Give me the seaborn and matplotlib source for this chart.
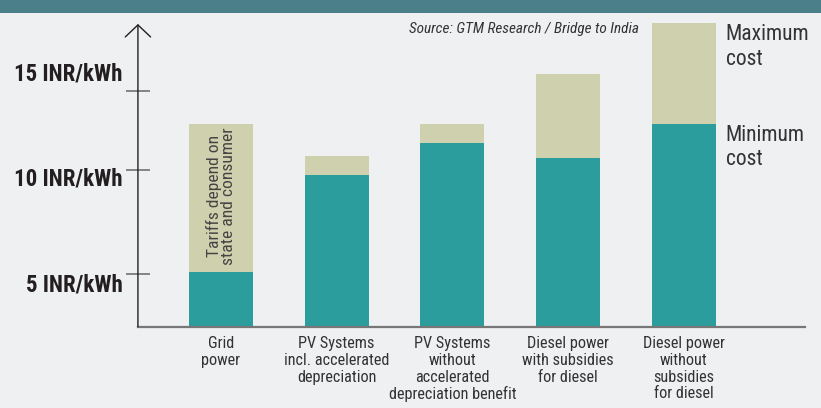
#!/usr/bin/env python3
"""
Cost of power in India: min / max cost per kWh by source.
Outputs: out.png
"""
import pandas as pd
import matplotlib.pyplot as plt
import seaborn as sns
from matplotlib.patches import Rectangle
from matplotlib import font_manager

categories = [
    "Grid\npower",
    "PV Systems\nincl. accelerated\ndepreciation",
    "PV Systems\nwithout\naccelerated\ndepreciation benefit",
    "Diesel power\nwith subsidies\nfor diesel",
    "Diesel power\nwithout\nsubsidies\nfor diesel",
]
min_cost = [5.5, 10.1, 11.6, 10.9, 12.5]
max_cost = [12.5, 11.0, 12.5, 14.9, 17.3]

y_ticks = [5, 10, 15]
y_tick_labels = ["5 INR/kWh", "10 INR/kWh", "15 INR/kWh"]
y_marks = [5.4, 10.33, 14.08]

TEAL = "#2a9d9c"
KHAKI = "#cfd0ae"
BG = "#eff0f2"
BAND = "#4b7f8a"

# pick the narrowest family that is installed
installed = {f.name for f in font_manager.fontManager.ttflist}
prefs = ["Liberation Sans Narrow", "Roboto Condensed", "DejaVu Sans Condensed",
         "Roboto", "DejaVu Sans"]
NARROW = [f for f in prefs if f in installed] or ["DejaVu Sans"]
used = NARROW[0]
condensed = used in ("Liberation Sans Narrow", "Roboto Condensed", "DejaVu Sans Condensed")
k = 1.0 if condensed else 0.88

sns.set_theme(style="white")
plt.rcParams.update({
    "font.family": NARROW,
    "figure.facecolor": BG,
    "axes.facecolor": BG,
    "savefig.facecolor": BG,
})

df = pd.DataFrame({"source": categories, "min": min_cost, "max": max_cost})

fig = plt.figure(figsize=(8.21, 4.08), dpi=100)
ax = fig.add_axes([0.168, 0.1993, 0.8124, 0.7517])

# header band
fig.patches.append(Rectangle((0, 1 - 13 / 408), 1, 13 / 408, transform=fig.transFigure,
                             facecolor=BAND, edgecolor="none", zorder=0))

sns.barplot(data=df, x="source", y="max", color=KHAKI, width=0.553,
            saturation=1, ax=ax, linewidth=0)
sns.barplot(data=df, x="source", y="min", color=TEAL, width=0.553,
            saturation=1, ax=ax, linewidth=0)

ax.set_xlim(-0.717, 5.045)
ax.set_ylim(2.9, 17.44)
ax.set_xlabel("")
ax.set_ylabel("")

# y axis: labels plus decorative crossing marks
ax.set_yticks(y_ticks)
ax.set_yticklabels(y_tick_labels, fontsize=16.5 * k, fontweight="bold", color="#231f20")
ax.tick_params(axis="y", which="major", length=0, pad=11)
ax.set_yticks(y_marks, minor=True)
ax.tick_params(axis="y", which="minor", direction="inout", length=17,
               width=1.1, color="#666666", left=True)

ax.tick_params(axis="x", length=0, pad=7)
for lab in ax.get_xticklabels():
    lab.set_fontsize(11.7 * k)
    lab.set_color("#333333")
    lab.set_linespacing(1.13)

for side in ["top", "right", "left"]:
    ax.spines[side].set_visible(False)
ax.spines["bottom"].set_color("#777777")
ax.spines["bottom"].set_linewidth(1.6)

# y axis arrow
ax.annotate("", xy=(0, 0.987), xytext=(0, 0), xycoords="axes fraction",
            arrowprops=dict(arrowstyle="->,head_length=0.72,head_width=0.76",
                            color="#231f20", lw=1.0, shrinkA=0, shrinkB=0),
            annotation_clip=False)

ax.text(0, 9.1, "Tariffs depend on\nstate and consumer", rotation=90,
        ha="center", va="center", fontsize=12.6 * k, color="#444444",
        linespacing=0.95)

ax.text(3.61, 17.0, "Source: GTM Research / Bridge to India", ha="right",
        va="center", fontsize=11 * k, style="italic", color="#333333")

ax.text(4.36, 17.23, "Maximum\ncost", ha="left", va="top", fontsize=15.5 * k,
        color="#333333", linespacing=1.22)
ax.text(4.36, 12.47, "Minimum\ncost", ha="left", va="top", fontsize=15.5 * k,
        color="#333333", linespacing=1.22)

fig.savefig("out.png", dpi=100)
plt.close(fig)
